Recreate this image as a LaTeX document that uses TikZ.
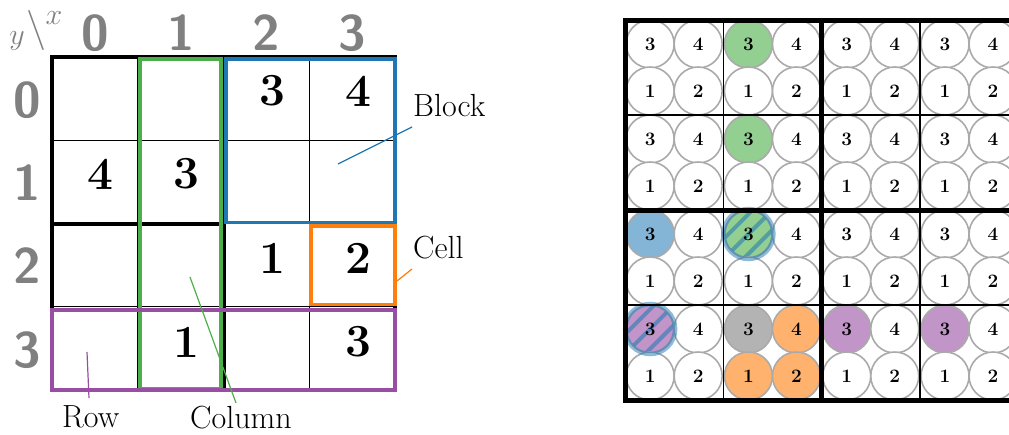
\RequirePackage{fix-cm}
\documentclass[tikz,border=0pt]{standalone}
\usepackage{fontspec}
\usetikzlibrary{calc}
\definecolor{cblue}{HTML}{1F77B4}
\definecolor{corange}{HTML}{FF7F0E}
\definecolor{cgreen}{HTML}{4DAF4A}
\definecolor{cpurple}{HTML}{984EA3}
\definecolor{axisgray}{HTML}{808080}
\definecolor{ringgray}{HTML}{AAAAAA}
\definecolor{candgray}{HTML}{B3B3B3}
\colorlet{lgreen}{cgreen!60}
\colorlet{lblue}{cblue!55}
\colorlet{lpurple}{cpurple!60}
\colorlet{lorange}{corange!60}

\begin{document}
\begin{tikzpicture}[x=1pt,y=-1pt,
  thingrid/.style={line width=1.4pt},
  blockline/.style={line width=4pt},
  hl/.style={line width=3.6pt},
  cellnum/.style={inner sep=0pt,font=\fontsize{46}{55}\selectfont\bfseries},
  axisnum/.style={inner sep=0pt,text=axisgray,font=\fontsize{50}{60}\selectfont\sffamily\bfseries},
  lbl/.style={inner sep=0pt,anchor=base west,font=\fontsize{32}{38}\selectfont},
  leader/.style={line width=1.2pt},
  cand/.style={circle,draw=ringgray,line width=1.6pt,minimum size=48pt,inner sep=0pt,
    font=\fontsize{19}{23}\selectfont\bfseries},
  stripes/.style={path picture={
    \foreach \d in {-14,0,14}
      \draw[cblue,opacity=.55,line width=4pt]
        ($(path picture bounding box.center)+({\d*0.707+30},{\d*0.707-30})$) --
        ($(path picture bounding box.center)+({\d*0.707-30},{\d*0.707+30})$);}},
  fw/.style={fill=white}, fg/.style={fill=lgreen}, fb/.style={fill=lblue},
  fp/.style={fill=lpurple}, fo/.style={fill=lorange}, fk/.style={fill=candgray},
  fgs/.style={fill=lgreen,stripes}, fps/.style={fill=lpurple,stripes},
  ring/.style={cblue,opacity=.5,line width=4.5pt},
]
\useasboundingbox (0,0) rectangle (1009,434);
\clip (0,0) rectangle (1009,434);

% ---------- left: 4x4 board ----------
\foreach \x in {52,137.75,223.5,309.25,395}
  \draw[thingrid] (\x,57) -- (\x,390);
\foreach \y in {57,140.25,223.5,306.75,390}
  \draw[thingrid] (52,\y) -- (395,\y);
\draw[blockline] (52,57) rectangle (395,390);
\draw[blockline] (223.5,57) -- (223.5,390);
\draw[blockline] (52,223.5) -- (223.5,223.5);

% highlighted regions
\draw[hl,cgreen]  (140,59) rectangle (221,389);
\draw[hl,cblue]   (226,59) rectangle (395,222.5);
\draw[hl,corange] (311,226) rectangle (395,304.5);
\draw[hl,cpurple] (52,310) rectangle (395,390);

% givens
\node[cellnum] (g02) at (272,91)  {3};
\node[cellnum] (g03) at (358,91)  {4};
\node[cellnum] (g10) at (100,174) {4};
\node[cellnum] (g11) at (186,174) {3};
\node[cellnum] (g22) at (272,258) {1};
\node[cellnum] (g23) at (358,258) {2};
\node[cellnum] (g31) at (186,342) {1};
\node[cellnum] (g33) at (358,342) {3};

% axis indices
\node[axisnum] (ax0) at (95,33)  {0};
\node[axisnum] (ax1) at (181,33) {1};
\node[axisnum] (ax2) at (266,33) {2};
\node[axisnum] (ax3) at (352,33) {3};
\node[axisnum] (ay0) at (27,100) {0};
\node[axisnum] (ay1) at (27,183) {1};
\node[axisnum] (ay2) at (27,266) {2};
\node[axisnum] (ay3) at (27,350) {3};
\node[inner sep=0pt,text=axisgray,font=\fontsize{30}{34}\selectfont] (yv) at (17,41) {$y$};
\node[inner sep=0pt,text=axisgray,font=\fontsize{40}{44}\selectfont] (bs) at (36,30) {$\backslash$};
\node[inner sep=0pt,text=axisgray,font=\fontsize{30}{34}\selectfont] (xv) at (54,18) {$x$};

% labels with leaders
\node[lbl] (lblock)  at (413,116) {Block};
\node[lbl] (lcell)   at (413,258) {Cell};
\node[lbl] (lrow)    at (62,427)  {Row};
\node[lbl] (lcolumn) at (190,428) {Column};
\coordinate (blk-a) at (412,127); \coordinate (blk-b) at (338,164);
\coordinate (cel-a) at (412,269); \coordinate (cel-b) at (397,281);
\coordinate (row-a) at (89,398);  \coordinate (row-b) at (87,352);
\coordinate (col-a) at (236,403); \coordinate (col-b) at (190,277);
\draw[leader,cblue]   (blk-a) -- (blk-b);
\draw[leader,corange] (cel-a) -- (cel-b);
\draw[leader,cpurple] (row-a) -- (row-b);
\draw[leader,cgreen]  (col-a) -- (col-b);

% ---------- right: candidate board ----------
\foreach \c/\r/\fa/\fb/\fc/\fd in {
  0/0/w/w/w/w, 1/0/g/w/w/w, 2/0/w/w/w/w, 3/0/w/w/w/w,
  0/1/w/w/w/w, 1/1/g/w/w/w, 2/1/w/w/w/w, 3/1/w/w/w/w,
  0/2/b/w/w/w, 1/2/gs/w/w/w, 2/2/w/w/w/w, 3/2/w/w/w/w,
  0/3/ps/w/w/w, 1/3/k/o/o/o, 2/3/p/w/w/w, 3/3/p/w/w/w}{
  \pgfmathsetmacro\cx{625+98.3*(\c+0.5)}
  \pgfmathsetmacro\cy{20+95*(\r+0.5)}
  \node[cand,f\fa] (c-\c-\r-3) at ({\cx-24},{\cy-23.5}) {3};
  \node[cand,f\fb] (c-\c-\r-4) at ({\cx+24},{\cy-23.5}) {4};
  \node[cand,f\fc] (c-\c-\r-1) at ({\cx-24},{\cy+23.5}) {1};
  \node[cand,f\fd] (c-\c-\r-2) at ({\cx+24},{\cy+23.5}) {2};
}
\draw[ring] (c-1-2-3.center) circle (25pt);
\draw[ring] (c-0-3-3.center) circle (25pt);

\foreach \x in {723.3,919.9}
  \draw[thingrid] (\x,20) -- (\x,400);
\foreach \y in {115,305}
  \draw[thingrid] (625,\y) -- (1018.2,\y);
\draw[line width=5pt] (625,20) rectangle (1018.2,400);
\draw[line width=5pt] (821.6,20) -- (821.6,400);
\draw[line width=5pt] (625,210) -- (1018.2,210);
\end{tikzpicture}
\end{document}
